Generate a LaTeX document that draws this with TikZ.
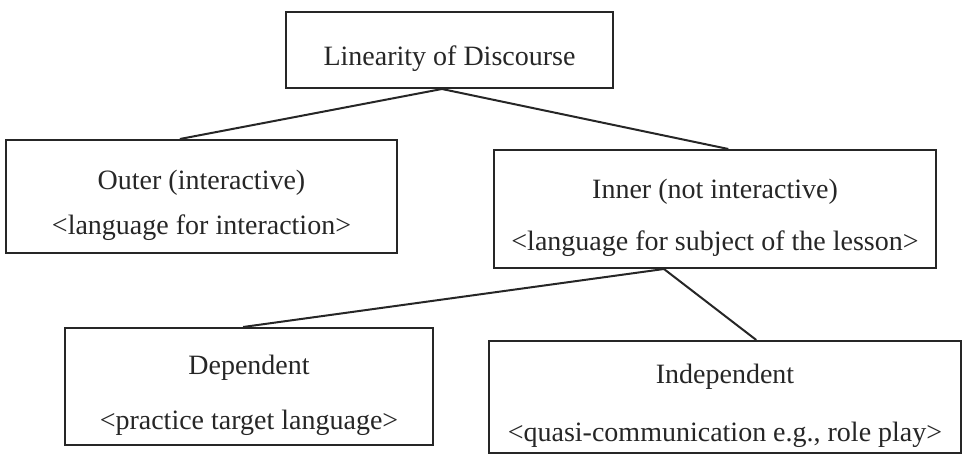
\documentclass[tikz,border=0pt]{standalone}
\usepackage{fontspec}
\setmainfont{Liberation Serif}
\usetikzlibrary{positioning, calc}

\newcommand{\toppad}{\rule{0pt}{23pt}}
\tikzset{
  box/.style 2 args={draw=black!85, line width=1.5pt, minimum width=#1*0.75pt, minimum height=#2*0.75pt,
    inner sep=0pt, align=center, text=black!85, font=\fontsize{21}{25}\selectfont, text depth=0pt},
  link/.style={draw=black!85, line width=1.5pt}
}

\begin{document}
\begin{tikzpicture}[x=0.75pt,y=-0.75pt]
\useasboundingbox (0,0) rectangle (964,459);
\node[box={327}{76}] (lin) at (449.5,50) {\toppad Linearity of Discourse};
\node[box={391}{113}] (outer) at (201.5,196.5) {\toppad Outer (interactive)\\[9pt]<language for interaction>};
\node[box={442}{118}] (inner) at (715,209) {\toppad Inner (not interactive)\\[14pt]<language for subject of the lesson>};
\node[box={368}{117}] (dep) at (249,386.5) {\toppad Dependent\\[16pt]<practice target language>};
\node[box={472}{112}] (indep) at (725,397) {\toppad Independent\\[18pt]<quasi-communication e.g., role play>};
\draw[link] ($(lin.south west)!0.477!(lin.south east)$) -- ($(outer.north west)!0.445!(outer.north east)$);
\draw[link] ($(lin.south west)!0.477!(lin.south east)$) -- ($(inner.north west)!0.53!(inner.north east)$);
\draw[link] ($(inner.south west)!0.385!(inner.south east)$) -- ($(dep.north west)!0.484!(dep.north east)$);
\draw[link] ($(inner.south west)!0.385!(inner.south east)$) -- ($(indep.north west)!0.566!(indep.north east)$);
\end{tikzpicture}
\end{document}
